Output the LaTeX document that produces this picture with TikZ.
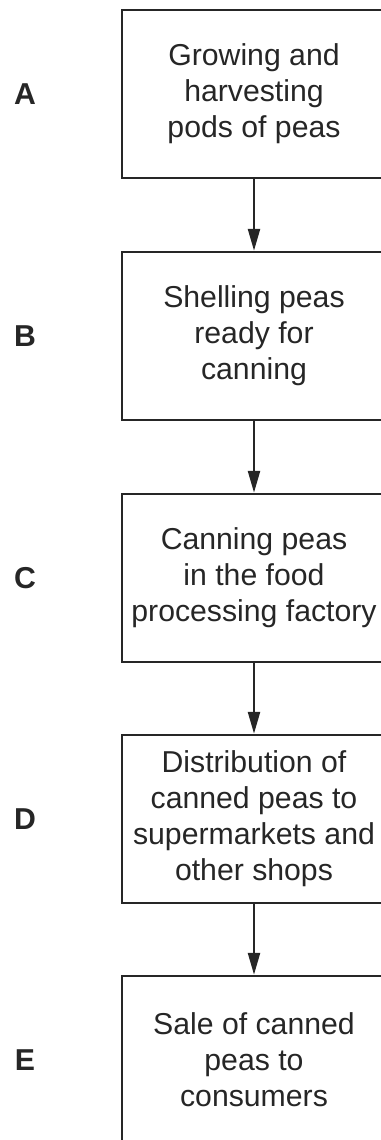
\documentclass[tikz,border=0pt]{standalone}
\usepackage{fontspec}
\setmainfont{Liberation Sans}
\usetikzlibrary{arrows.meta}

\begin{document}
\begin{tikzpicture}[x=0.02cm, y=-0.02cm,
    stage/.style = {draw=black!85, line width=0.05cm, minimum width=5.28cm, minimum height=3.36cm,
                    inner sep=0pt, align=center, font=\fontsize{17.2}{20.5}\selectfont, text=black!85},
    tag/.style   = {font=\fontsize{17.2}{20.5}\selectfont\bfseries, text=black!85},
    flow/.style  = {draw=black!85, line width=0.05cm, -{Triangle[length=0.44cm, width=0.24cm]}}]
  \clip (0,0) rectangle (381,1140);
  \node [stage] (grow)   at (254,  94) {Growing and\\harvesting\\pods of peas};
  \node [stage] (shell)  at (254, 336) {Shelling peas\\ready for\\canning};
  \node [stage] (can)    at (254, 578) {Canning peas\\in the food\\processing factory};
  \node [stage] (ship)   at (254, 819) {Distribution of\\canned peas to\\supermarkets and\\other shops};
  \node [stage] (sell)   at (254,1060) {Sale of canned\\peas to\\consumers};
  \node [tag] (tagA) at (25,  94) {A};
  \node [tag] (tagB) at (25, 336) {B};
  \node [tag] (tagC) at (25, 578) {C};
  \node [tag] (tagD) at (25, 819) {D};
  \node [tag] (tagE) at (25,1060) {E};
  \draw [flow] (grow)  -- (shell);
  \draw [flow] (shell) -- (can);
  \draw [flow] (can)   -- (ship);
  \draw [flow] (ship)  -- (sell);
\end{tikzpicture}
\end{document}
